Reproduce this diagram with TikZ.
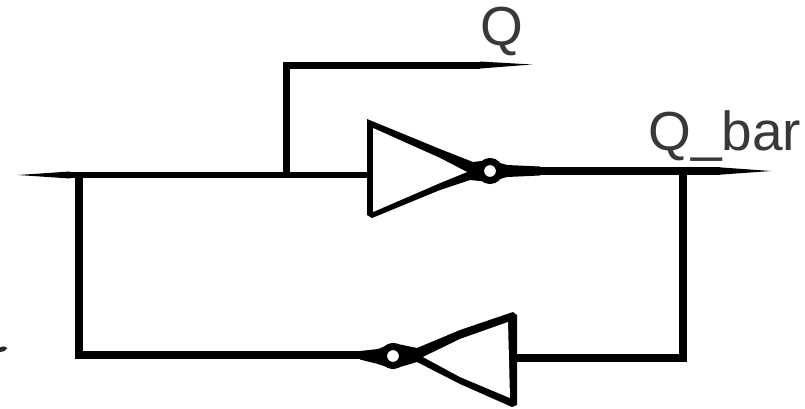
\documentclass[tikz,border=0pt]{standalone}
\usepackage{fontspec}
\setmainfont{Liberation Sans}
\tikzset{
  wire/.style={draw=black,line width=7pt,line join=miter},
  thinwire/.style={draw=black,line width=6pt},
  bubble/.style={circle,draw=black,line width=7pt,fill=white,minimum size=19pt,inner sep=0pt},
  lbl/.style={text=black!78,font=\fontsize{55}{55}\selectfont,inner sep=0pt},
  taper/.style={fill=black,draw=none}
}
\begin{document}
\begin{tikzpicture}[x=1pt,y=-1pt]
\useasboundingbox (0,0) rectangle (805,408);
% junction and end coordinates
\coordinate (inL) at (62,175);
\coordinate (jLeft) at (79,175);
\coordinate (jUp) at (286,175);
\coordinate (topC) at (286,65);
\coordinate (topEnd) at (480,65);
\coordinate (g1in) at (372,175);
\coordinate (jRight) at (683,171);
\coordinate (g2inR) at (683,358);
\coordinate (g2in) at (515,358);
\coordinate (botL) at (79,355);
\coordinate (botR) at (365,355);
\coordinate (g1out) at (535,171);
\coordinate (qEnd) at (720,171);
% wires
\draw[wire] (topEnd) -- (topC) -- (jUp);
\draw[thinwire] (inL) -- (g1in);
\draw[wire,line width=8pt] (jLeft) -- (botL) -- (botR);
\draw[wire,line width=8pt] (g1out) -- (qEnd);
\draw[wire,line width=8pt] (jRight) -- (g2inR) -- (g2in);
% tapered free ends
\fill[taper] (480,61.5) -- (532,64.5) -- (480,68.5) -- cycle;
\fill[taper] (70,171.5) -- (18,175) -- (70,178.5) -- cycle;
\fill[taper] (715,167) -- (771,171) -- (715,175) -- cycle;
% inverter 1
\fill[black] (367,119) -- (440,149) -- (473,162) -- (490,160) -- (507,165) -- (540,166.5) -- (540,175.5) -- (507,177) -- (490,182) -- (470,180) -- (440,190) -- (372,218) -- (367,215) -- cycle;
\fill[white] (373,128) -- (440,158) -- (467,172) -- (440,183) -- (373,212) -- cycle;
% inverter 2
\fill[black] (513,312) -- (517,315) -- (517,405) -- (512,407) -- (460,384) -- (417,362) -- (393,369) -- (378,364) -- (360,359.5) -- (360,351) -- (378,349) -- (393,343) -- (417,348) -- (460,330) -- cycle;
\fill[white] (508,322) -- (460,339) -- (423,357) -- (460,377) -- (510,398) -- cycle;
\node[bubble] (b1) at (490,171) {};
\node[bubble] (b2) at (393,356) {};
% labels
\node[lbl,anchor=base] (q) at (502,45) {Q};
\node[lbl,anchor=base west] (qbar) at (648,150) {Q\_bar};
% stray mark at the left edge
\fill[black!85] (0,347.5) .. controls (3,346) and (6,346) .. (7.5,348) .. controls (6,351) and (3,352) .. (0,352) -- cycle;
\end{tikzpicture}
\end{document}
